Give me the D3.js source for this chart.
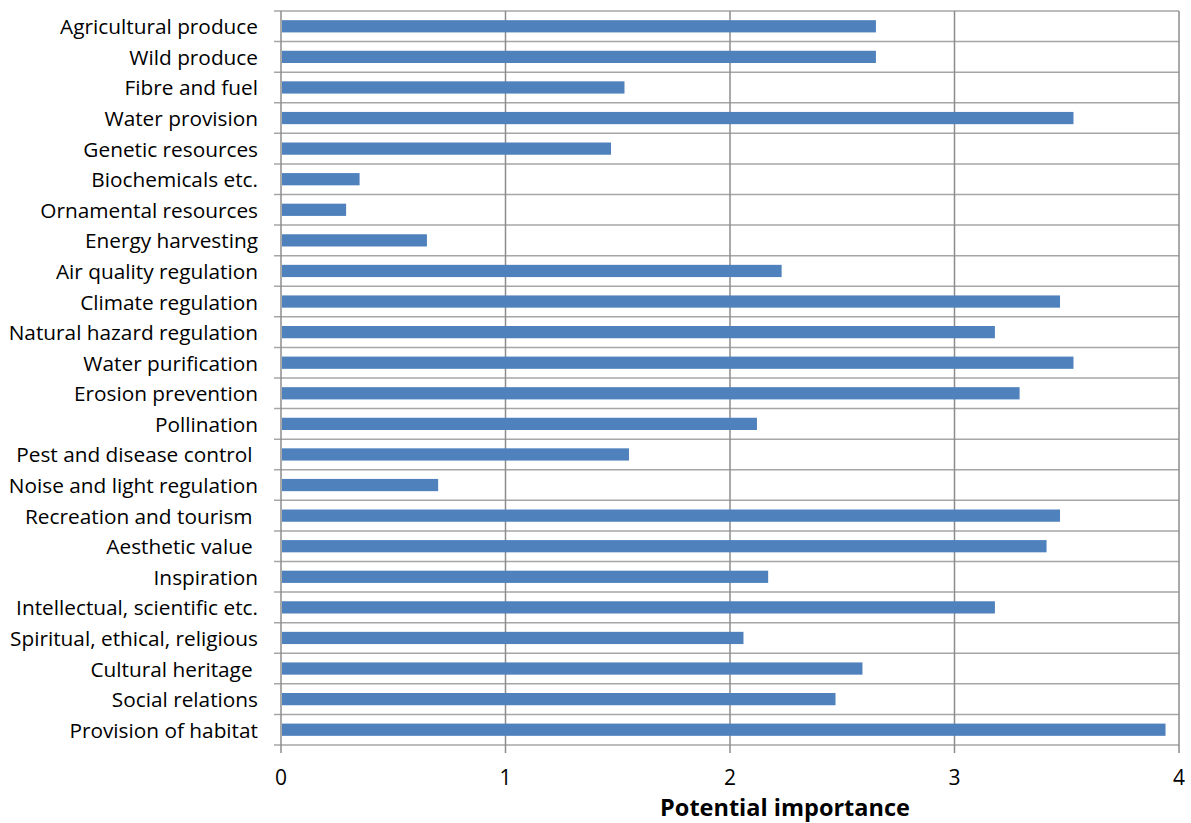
<!DOCTYPE html>
<html>
<head>
<meta charset="utf-8">
<script src="https://cdn.jsdelivr.net/npm/d3@7"></script>
<style>
  html, body { margin: 0; padding: 0; background: #fff; }
  svg text { font-family: "Open Sans", "Noto Sans", sans-serif; fill: #000; }
</style>
</head>
<body>
<svg id="chart" width="1191" height="823"></svg>
<script>
// Ecosystem services, top to bottom
const categories = [
  "Agricultural produce", "Wild produce", "Fibre and fuel", "Water provision",
  "Genetic resources", "Biochemicals etc.", "Ornamental resources", "Energy harvesting",
  "Air quality regulation", "Climate regulation", "Natural hazard regulation",
  "Water purification", "Erosion prevention", "Pollination", "Pest and disease control ",
  "Noise and light regulation", "Recreation and tourism ", "Aesthetic value ",
  "Inspiration", "Intellectual, scientific etc.", "Spiritual, ethical, religious",
  "Cultural heritage ", "Social relations", "Provision of habitat"
];

// Mean potential importance score per service
const importance = [
  2.65, 2.65, 1.53, 3.53, 1.47, 0.35, 0.29, 0.65, 2.23, 3.47, 3.18, 3.53,
  3.29, 2.12, 1.55, 0.70, 3.47, 3.41, 2.17, 3.18, 2.06, 2.59, 2.47, 3.94
];

const xTicks = [0, 1, 2, 3, 4];
const xTitle = "Potential importance";

const svg = d3.select("#chart");
const margin = { left: 281, right: 12, top: 11, bottom: 78 };
const W = 1191, H = 823;

const x = d3.scaleLinear().domain([0, 4]).range([margin.left, W - margin.right]);
const y = d3.scaleBand().domain(categories).range([margin.top, H - margin.bottom]).paddingInner(0.6).paddingOuter(0.3);

const gridColor = "#8c8c8c";
const catLineColor = "#a6a6a6";

// Category separator lines (band boundaries) with short ticks to the left
const bounds = categories.map(c => y(c) - y.step() * y.paddingInner() / 2);
bounds.push(H - margin.bottom);
svg.append("g").selectAll("line").data(bounds).join("line")
  .attr("x1", margin.left - 7).attr("x2", x(4))
  .attr("y1", d => d).attr("y2", d => d)
  .attr("stroke", catLineColor).attr("stroke-width", 1.5);

// Vertical gridlines
svg.append("g").selectAll("line").data(xTicks).join("line")
  .attr("x1", d => x(d)).attr("x2", d => x(d))
  .attr("y1", margin.top).attr("y2", H - margin.bottom + 8)
  .attr("stroke", gridColor).attr("stroke-width", 1.5);

// Bars
svg.append("g").selectAll("rect").data(categories).join("rect")
  .attr("x", x(0) + 1)
  .attr("y", d => y(d))
  .attr("width", (d, i) => x(importance[i]) - x(0) - 1)
  .attr("height", y.bandwidth())
  .attr("fill", "#4f81bd");

// Category labels
svg.append("g").selectAll("text").data(categories).join("text")
  .attr("x", 258)
  .attr("y", d => y(d) + y.bandwidth() / 2)
  .attr("text-anchor", "end")
  .attr("dominant-baseline", "central")
  .attr("font-size", 20.8)
  .style("white-space", "pre")
  .text(d => d);

// X tick labels
svg.append("g").selectAll("text").data(xTicks).join("text")
  .attr("x", d => x(d))
  .attr("y", 777)
  .attr("text-anchor", "middle")
  .attr("dominant-baseline", "central")
  .attr("font-size", 21)
  .text(d => d);

// Axis title
svg.append("text")
  .attr("x", x(2) + 55)
  .attr("y", 807)
  .attr("text-anchor", "middle")
  .attr("dominant-baseline", "central")
  .attr("font-size", 23.5)
  .attr("font-weight", "bold")
  .text(xTitle);
</script>
</body>
</html>
